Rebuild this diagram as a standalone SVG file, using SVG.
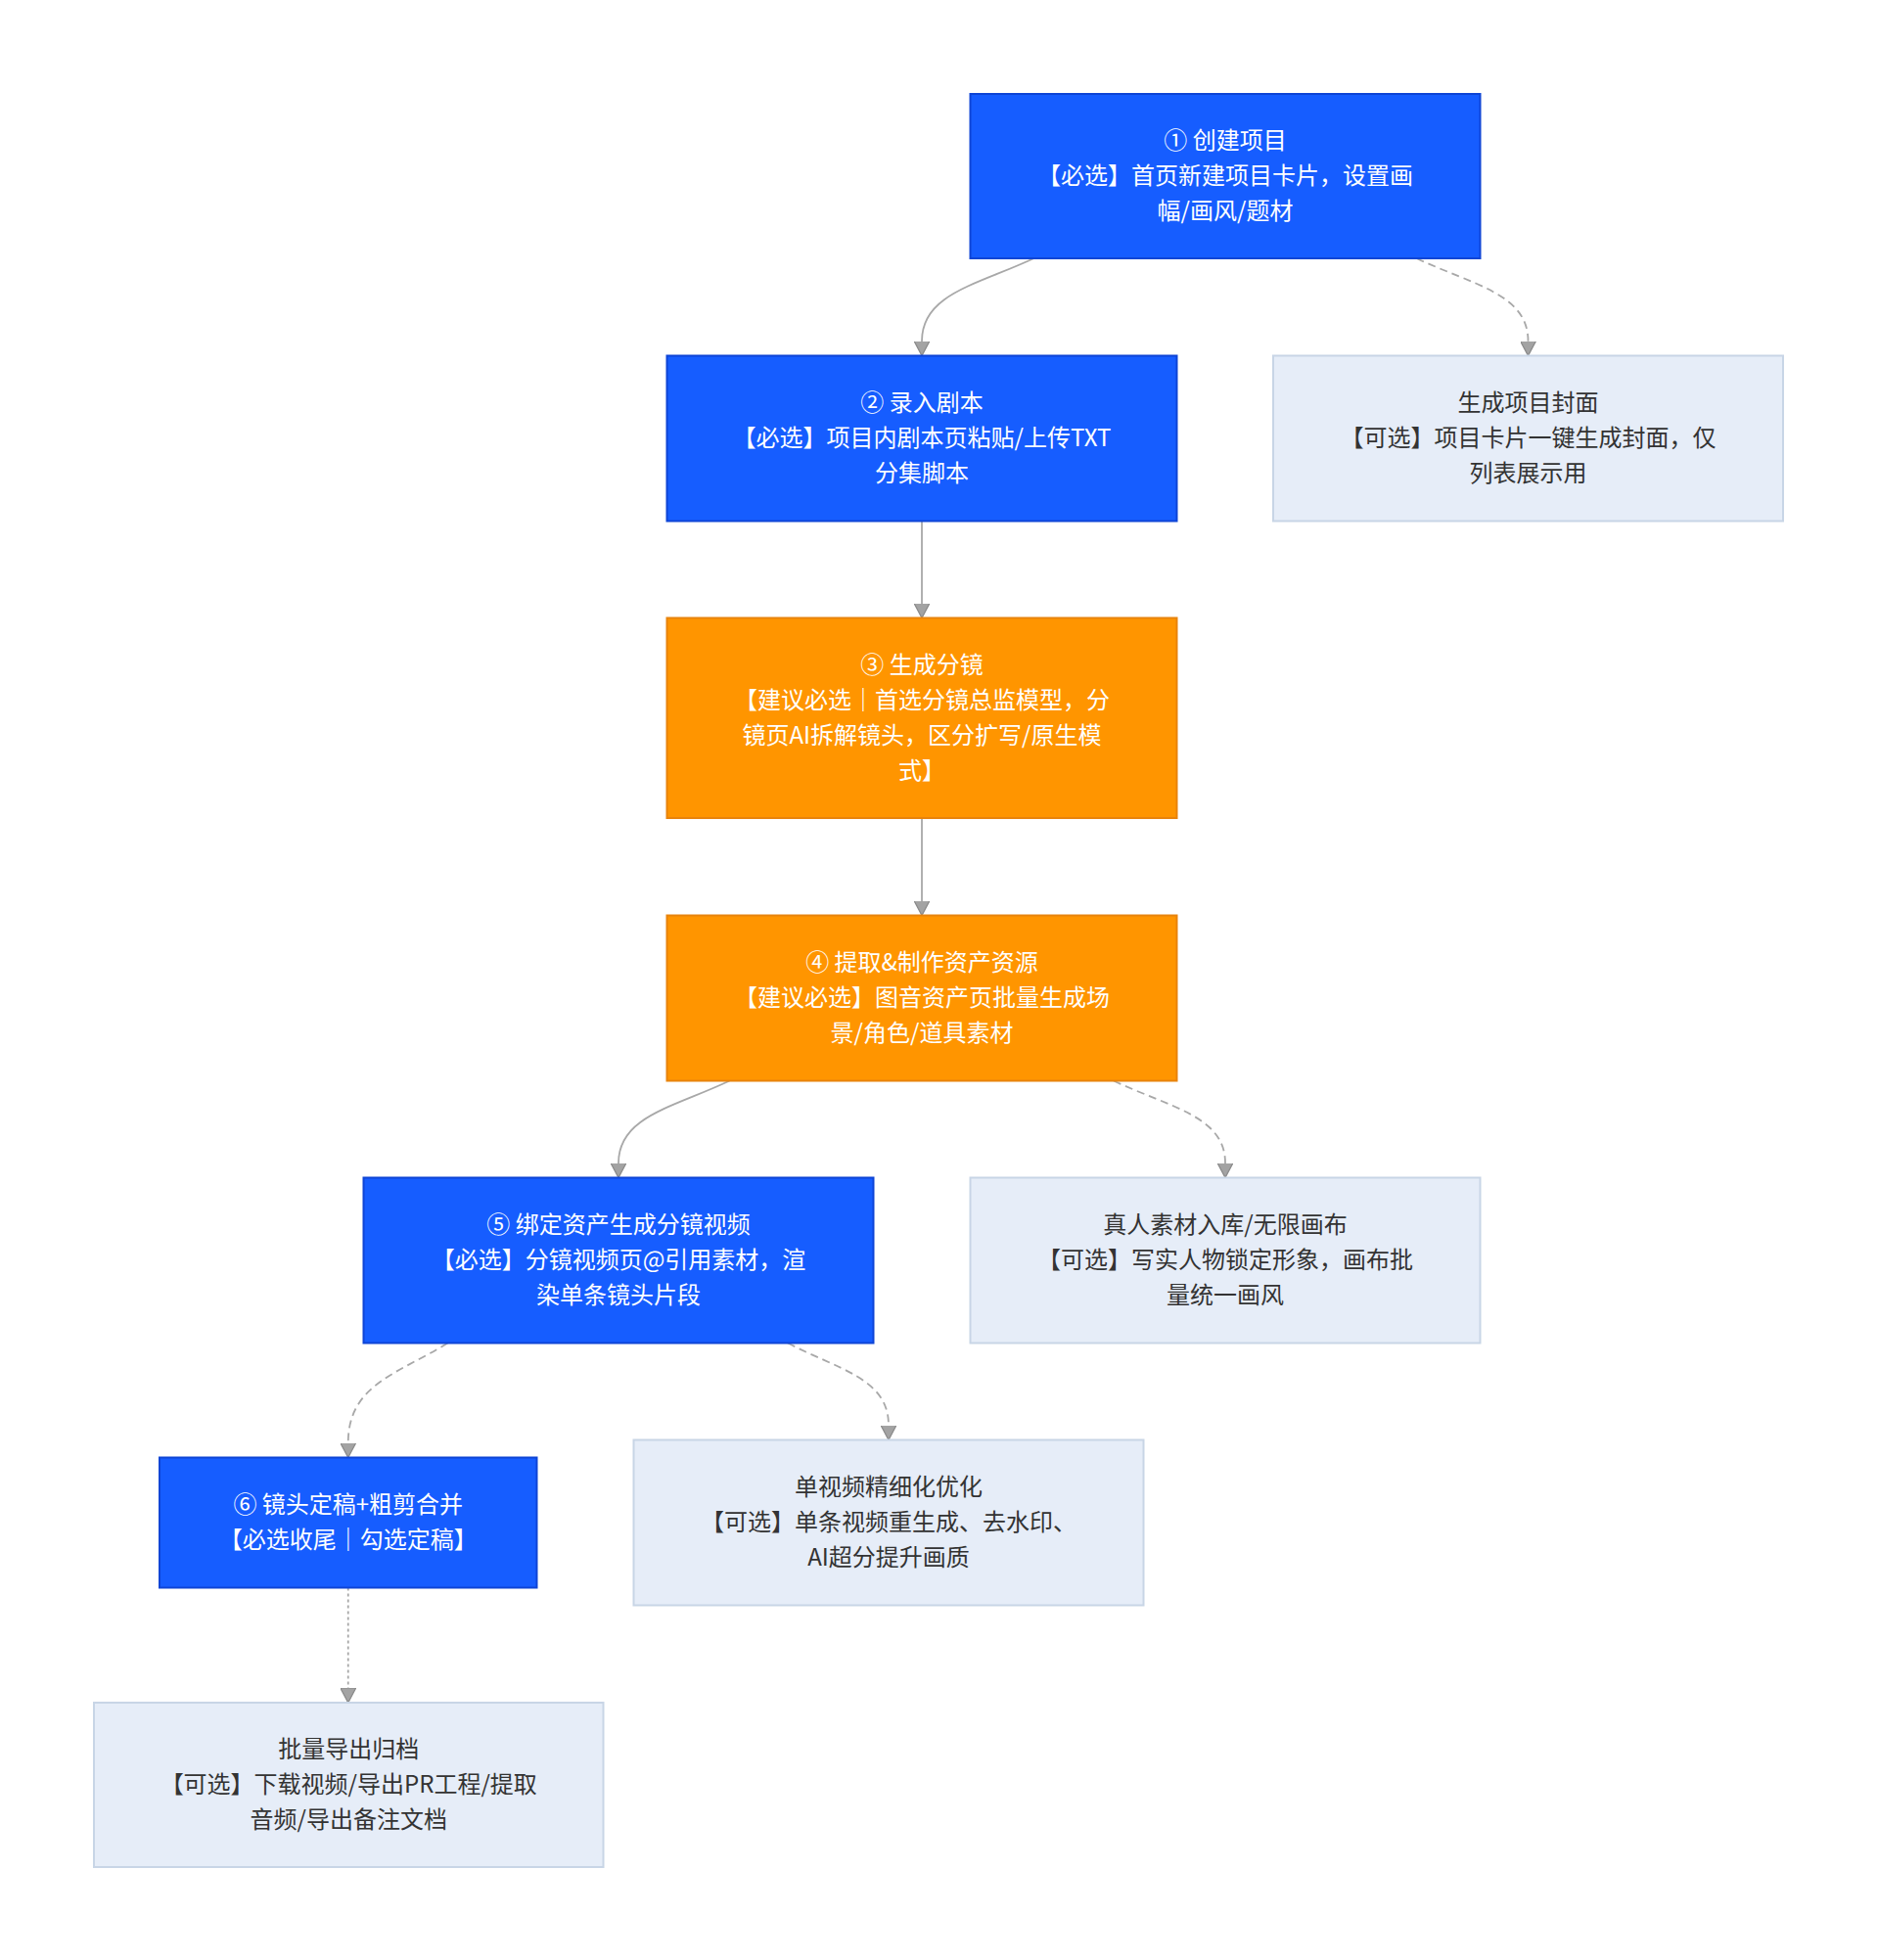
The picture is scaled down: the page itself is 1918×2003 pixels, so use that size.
<svg xmlns="http://www.w3.org/2000/svg" width="1918" height="2003" viewBox="0 0 1918 2003">
<defs>
<style>
.blue rect{fill:#165dff;stroke:#0e45d6;stroke-width:2}
.orange rect{fill:#ff9500;stroke:#e8830c;stroke-width:2}
.light rect{fill:#e6edf8;stroke:#c8d5e6;stroke-width:2}
text{font-family:"Noto Sans CJK SC","Noto Sans",sans-serif;font-size:24px;text-anchor:middle}
.blue text,.orange text{fill:#ffffff}
.light text{fill:#333333}
.edge{fill:none;stroke:#a8a8a8;stroke-width:1.8;marker-end:url(#arr)}
.dash{stroke-dasharray:8 5}
.dot{stroke-dasharray:3 3}
</style>
<marker id="arr" viewBox="0 0 10 10" refX="10" refY="5" markerUnits="userSpaceOnUse" markerWidth="15" markerHeight="16" orient="auto" preserveAspectRatio="none">
<path d="M0,0 L10,5 L0,10 z" fill="#a3a3a3" stroke="#8a8a8a" stroke-width="0.8"/>
</marker>
</defs>
<rect width="1918" height="2003" fill="#ffffff"/>
<g id="connectors">
<path class="edge" d="M1056.5,264 C999,291 942,300 942,348.5 L942,363.5"/>
<path class="edge dash" d="M1447.5,264 C1504.5,291 1561.5,300 1561.5,348.5 L1561.5,363.5"/>
<path class="edge" d="M942,532.5 L942,631.5"/>
<path class="edge" d="M942,836 L942,935.5"/>
<path class="edge" d="M745.5,1104.5 C688.75,1131.5 632,1140.5 632,1188.5 L632,1203.5"/>
<path class="edge dash" d="M1138,1104.5 C1195,1131.5 1252,1140.5 1252,1188.5 L1252,1203.5"/>
<path class="edge dash" d="M457.5,1372.5 C406.6,1404 355.75,1414.6 355.75,1474.5 L355.75,1489.5"/>
<path class="edge dash" d="M805,1372.5 C856.5,1399.5 908,1408.5 908,1456.5 L908,1471.5"/>
<path class="edge dot" d="M355.75,1622.5 L355.75,1740"/>
</g>
<g id="n1" class="blue">
<rect x="991.5" y="96" width="521" height="168"/>
<text x="1252" y="152">① 创建项目</text>
<text x="1252" y="188">【必选】首页新建项目卡片，设置画</text>
<text x="1252" y="224">幅/画风/题材</text>
</g>
<g id="n2" class="blue">
<rect x="681.5" y="363.5" width="521" height="169"/>
<text x="942" y="420">② 录入剧本</text>
<text x="942" y="456">【必选】项目内剧本页粘贴/上传TXT</text>
<text x="942" y="492">分集脚本</text>
</g>
<g id="cover" class="light">
<rect x="1301" y="363.5" width="521" height="169"/>
<text x="1561.5" y="420">生成项目封面</text>
<text x="1561.5" y="456">【可选】项目卡片一键生成封面，仅</text>
<text x="1561.5" y="492">列表展示用</text>
</g>
<g id="n3" class="orange">
<rect x="681.5" y="631.5" width="521" height="204.5"/>
<text x="942" y="687.75">③ 生成分镜</text>
<text x="942" y="723.75">【建议必选｜首选分镜总监模型，分</text>
<text x="942" y="759.75">镜页AI拆解镜头，区分扩写/原生模</text>
<text x="942" y="795.75">式】</text>
</g>
<g id="n4" class="orange">
<rect x="681.5" y="935.5" width="521" height="169"/>
<text x="942" y="992">④ 提取&amp;制作资产资源</text>
<text x="942" y="1028">【建议必选】图音资产页批量生成场</text>
<text x="942" y="1064">景/角色/道具素材</text>
</g>
<g id="n5" class="blue">
<rect x="371.5" y="1203.5" width="521" height="169"/>
<text x="632" y="1260">⑤ 绑定资产生成分镜视频</text>
<text x="632" y="1296">【必选】分镜视频页@引用素材，渲</text>
<text x="632" y="1332">染单条镜头片段</text>
</g>
<g id="real" class="light">
<rect x="991.5" y="1203.5" width="521" height="169"/>
<text x="1252" y="1260">真人素材入库/无限画布</text>
<text x="1252" y="1296">【可选】写实人物锁定形象，画布批</text>
<text x="1252" y="1332">量统一画风</text>
</g>
<g id="n6" class="blue">
<rect x="163" y="1489.5" width="385.5" height="133"/>
<text x="355.75" y="1546">⑥ 镜头定稿+粗剪合并</text>
<text x="355.75" y="1582">【必选收尾｜勾选定稿】</text>
</g>
<g id="single" class="light">
<rect x="647.5" y="1471.5" width="521" height="169"/>
<text x="908" y="1528">单视频精细化优化</text>
<text x="908" y="1564">【可选】单条视频重生成、去水印、</text>
<text x="908" y="1600">AI超分提升画质</text>
</g>
<g id="export" class="light">
<rect x="96" y="1740" width="520.5" height="168"/>
<text x="356.25" y="1796">批量导出归档</text>
<text x="356.25" y="1832">【可选】下载视频/导出PR工程/提取</text>
<text x="356.25" y="1868">音频/导出备注文档</text>
</g>
</svg>
